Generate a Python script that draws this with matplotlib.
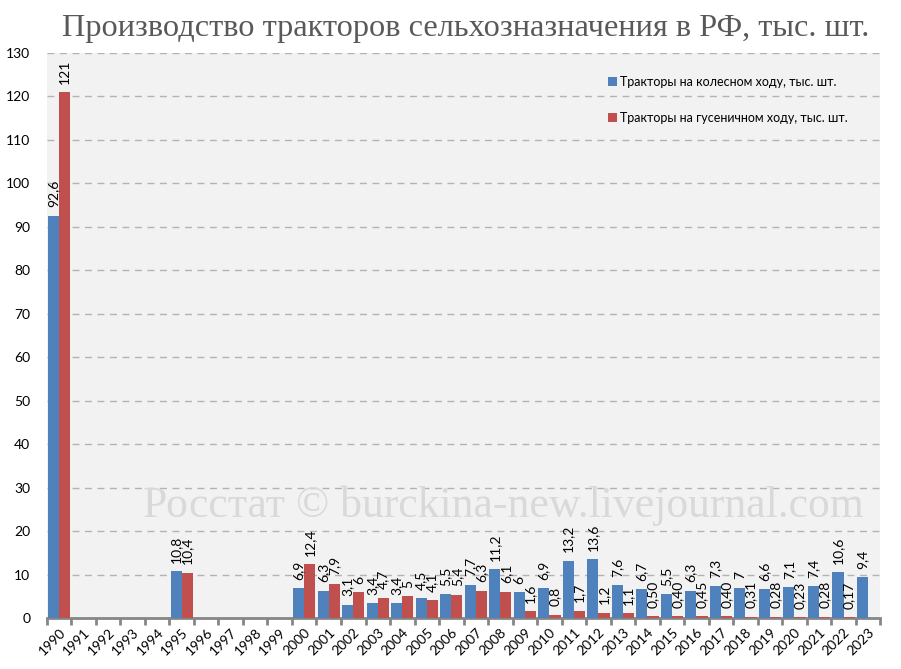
import matplotlib.pyplot as plt
import numpy as np

years = [str(y) for y in range(1990, 2024)]

# Тракторы на колесном ходу, тыс. шт. (None = нет данных)
wheeled = [92.6, None, None, None, None, 10.8, None, None, None, None,
           6.9, 6.3, 3.1, 3.4, 3.4, 4.5, 5.5, 7.7, 11.2, 6.0,
           6.9, 13.2, 13.6, 7.6, 6.7, 5.5, 6.3, 7.3, 7.0, 6.6,
           7.1, 7.4, 10.6, 9.4]
wheeled_lbl = ['92,6', '', '', '', '', '10,8', '', '', '', '',
               '6,9', '6,3', '3,1', '3,4', '3,4', '4,5', '5,5', '7,7', '11,2', '6',
               '6,9', '13,2', '13,6', '7,6', '6,7', '5,5', '6,3', '7,3', '7', '6,6',
               '7,1', '7,4', '10,6', '9,4']

# Тракторы на гусеничном ходу, тыс. шт.
tracked = [121, None, None, None, None, 10.4, None, None, None, None,
           12.4, 7.9, 6.0, 4.7, 5.0, 4.1, 5.4, 6.3, 6.1, 1.6,
           0.8, 1.7, 1.2, 1.1, 0.50, 0.40, 0.45, 0.40, 0.31, 0.28,
           0.23, 0.28, 0.17, None]
tracked_lbl = ['121', '', '', '', '', '10,4', '', '', '', '',
               '12,4', '7,9', '6', '4,7', '5', '4,1', '5,4', '6,3', '6,1', '1,6',
               '0,8', '1,7', '1,2', '1,1', '0,50', '0,40', '0,45', '0,40', '0,31', '0,28',
               '0,23', '0,28', '0,17', '']

blue = '#4f81bd'
red = '#c0504d'

plt.rcParams['font.family'] = ['Lato', 'DejaVu Sans']

fig = plt.figure(figsize=(9.01, 6.69), dpi=100)
ax = fig.add_axes([0.052, 0.0762, 0.925, 0.8446])
ax.set_facecolor('#f2f2f2')

x = np.arange(len(years))
w = 0.455
wv = np.array([np.nan if v is None else v for v in wheeled], dtype=float)
tv = np.array([np.nan if v is None else v for v in tracked], dtype=float)
ax.bar(x - w / 2, wv, w, color=blue, label='Тракторы на колесном ходу, тыс. шт.', zorder=3)
ax.bar(x + w / 2, tv, w, color=red, label='Тракторы на гусеничном ходу, тыс. шт.', zorder=3)

for xs, vals, lbls in ((x - w / 2, wv, wheeled_lbl), (x + w / 2, tv, tracked_lbl)):
    for xi, v, s in zip(xs, vals, lbls):
        if s:
            ax.annotate(s, (xi, v), xytext=(0, 6), textcoords='offset points',
                        rotation=90, ha='center', va='bottom', fontsize=10, zorder=4)

ax.set_xlim(-0.5, len(years) - 0.5)
ax.set_ylim(0, 130)
ax.set_yticks(np.arange(0, 131, 10))
ax.yaxis.grid(True, color='#b3b3b3', linestyle=(0, (5, 4)), linewidth=1)
ax.set_axisbelow(True)
ax.tick_params(axis='y', length=0, labelsize=10, pad=12)

ax.set_xticks(x)
ax.set_xticklabels(years, rotation=45, ha='right', va='top', rotation_mode='anchor', fontsize=10)
ax.tick_params(axis='x', which='major', length=0, pad=6)
ax.set_xticks(np.arange(-0.5, len(years), 1), minor=True)
ax.tick_params(axis='x', which='minor', length=5, width=2, color='#868686')

for s in ('left', 'right', 'top'):
    ax.spines[s].set_visible(False)
ax.spines['bottom'].set_color('#868686')
ax.spines['bottom'].set_linewidth(2)

ax.legend(loc='upper right', bbox_to_anchor=(0.975, 0.98), frameon=False, fontsize=9,
          handlelength=0.7, handleheight=0.7, handletextpad=0.3, labelspacing=1.95)

ax.text(0.548, 0.199, 'Росстат © burckina-new.livejournal.com', transform=ax.transAxes,
        ha='center', va='center', fontsize=31.5, color='#d9d9d9',
        family=['Liberation Serif', 'DejaVu Serif'], zorder=2)

fig.text(0.517, 0.957, 'Производство тракторов сельхозназначения в РФ, тыс. шт.',
         ha='center', va='center', fontsize=23.3, color='#595959',
         family=['Liberation Serif', 'DejaVu Serif'])

fig.savefig('out.png', dpi=100)
